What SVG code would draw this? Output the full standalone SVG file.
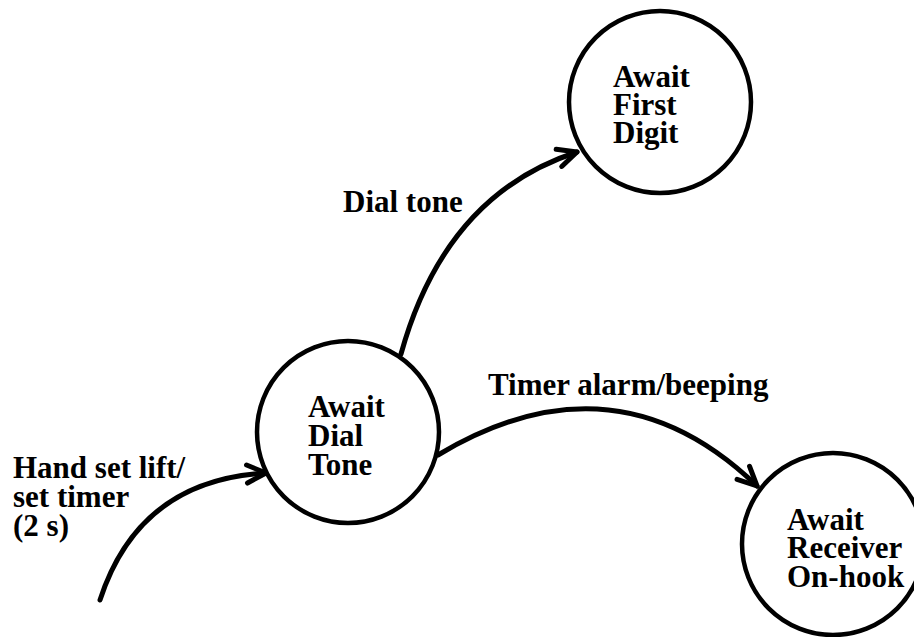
<svg xmlns="http://www.w3.org/2000/svg" width="914" height="637" viewBox="0 0 914 637">
<style>
.node{fill:#fff;stroke:#000;stroke-width:4.5}
.lbl{font-family:"Liberation Serif","Times New Roman",serif;font-weight:bold;font-size:31px;fill:#000}
.edge{fill:none;stroke:#000;stroke-width:5;stroke-linecap:round}
</style>
<defs>
<marker id="arr" markerUnits="userSpaceOnUse" markerWidth="30" markerHeight="30" viewBox="-25 -15 30 30" refX="0" refY="0" orient="auto">
<path d="M-19,-9 L0,0 L-19,9" fill="none" stroke="#000" stroke-width="5" stroke-linecap="round" stroke-linejoin="round"/>
</marker>
</defs>
<rect width="914" height="637" fill="#fff"/>
<g id="connectors">
<path class="edge" d="M401,354 Q445,195 577,152" marker-end="url(#arr)"/>
<path class="edge" d="M438,455 Q615,349 757,486" marker-end="url(#arr)"/>
<path class="edge" d="M100,600 Q139,480 266,473" marker-end="url(#arr)"/>
</g>
<g id="node-dial-tone">
<circle class="node" cx="348" cy="432" r="91"/>
<text class="lbl" x="308" y="417">Await</text>
<text class="lbl" x="308" y="446">Dial</text>
<text class="lbl" x="308" y="475">Tone</text>
</g>
<g id="node-first-digit">
<circle class="node" cx="660" cy="102" r="91"/>
<text class="lbl" x="613" y="87">Await</text>
<text class="lbl" x="613" y="115">First</text>
<text class="lbl" x="613" y="143">Digit</text>
</g>
<g id="node-receiver">
<circle class="node" cx="833" cy="544" r="91"/>
<text class="lbl" x="787" y="530">Await</text>
<text class="lbl" x="787" y="558">Receiver</text>
<text class="lbl" x="787" y="587">On-hook</text>
</g>
<g id="labels">
<text class="lbl" x="343" y="212">Dial tone</text>
<text class="lbl" x="488" y="395">Timer alarm/beeping</text>
<text class="lbl" x="13" y="478">Hand set lift/</text>
<text class="lbl" x="13" y="507">set timer</text>
<text class="lbl" x="13" y="536">(2 s)</text>
</g>
</svg>
